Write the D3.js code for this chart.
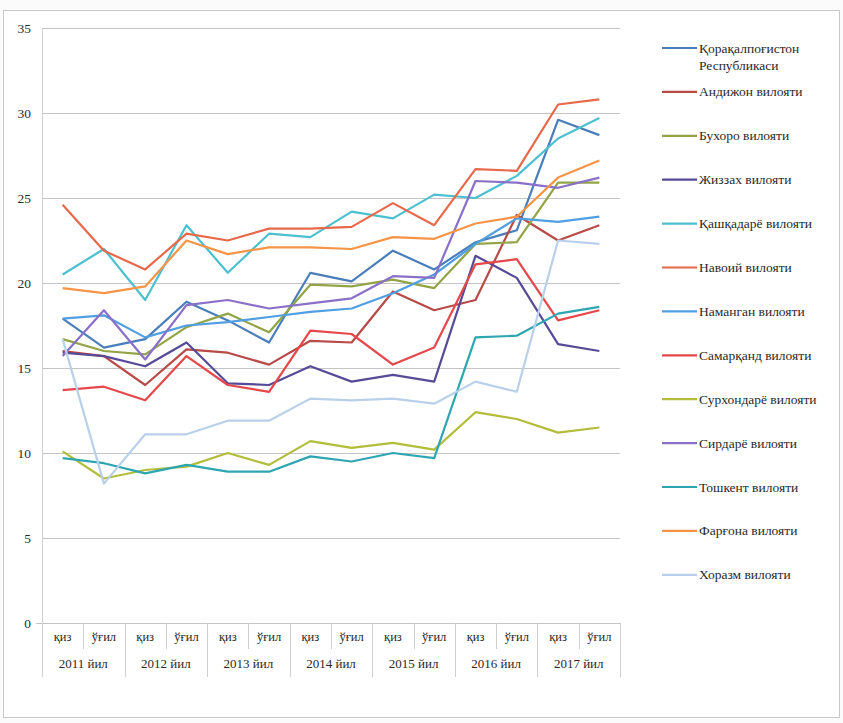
<!DOCTYPE html>
<html>
<head>
<meta charset="utf-8">
<script src="https://cdn.jsdelivr.net/npm/d3@7"></script>
<style>
  html, body { margin: 0; padding: 0; background: #ffffff; }
  svg { display: block; }
  svg text { font-family: "Times New Roman", "Liberation Serif", "DejaVu Serif", "Noto Serif", serif !important; fill: #2a2a2a; }
</style>
</head>
<body>
<svg id="chart" width="843" height="723"></svg>
<script>
// ---- data ----
const years = ["2011 йил", "2012 йил", "2013 йил", "2014 йил", "2015 йил", "2016 йил", "2017 йил"];
const sexes = ["қиз", "ўғил"];
const yTicks = [0, 5, 10, 15, 20, 25, 30, 35];

const regionNames = [
  "Қорақалпоғистон Республикаси",
  "Андижон вилояти",
  "Бухоро вилояти",
  "Жиззах вилояти",
  "Қашқадарё вилояти",
  "Навоий вилояти",
  "Наманган вилояти",
  "Самарқанд вилояти",
  "Сурхондарё вилояти",
  "Сирдарё вилояти",
  "Тошкент вилояти",
  "Фарғона вилояти",
  "Хоразм вилояти"
];
const regionColors = ["#4a7ebb", "#b84a47", "#92a445", "#574b98", "#4cc0d0", "#e8694a",
                      "#4f9fe2", "#e6474a", "#b2bd3a", "#8a70c8", "#2ea6b2", "#f79446", "#b9d0ea"];

const karakalpak = [17.9, 16.2, 16.7, 18.9, 17.8, 16.5, 20.6, 20.1, 21.9, 20.8, 22.4, 23.1, 29.6, 28.7];
const andijan    = [16.0, 15.7, 14.0, 16.1, 15.9, 15.2, 16.6, 16.5, 19.5, 18.4, 19.0, 24.0, 22.5, 23.4];
const bukhara    = [16.7, 16.0, 15.8, 17.4, 18.2, 17.1, 19.9, 19.8, 20.2, 19.7, 22.3, 22.4, 25.9, 25.9];
const jizzakh    = [15.9, 15.7, 15.1, 16.5, 14.1, 14.0, 15.1, 14.2, 14.6, 14.2, 21.6, 20.3, 16.4, 16.0];
const kashkadarya= [20.5, 22.0, 19.0, 23.4, 20.6, 22.9, 22.7, 24.2, 23.8, 25.2, 25.0, 26.3, 28.5, 29.7];
const navoi      = [24.6, 21.9, 20.8, 22.9, 22.5, 23.2, 23.2, 23.3, 24.7, 23.4, 26.7, 26.6, 30.5, 30.8];
const namangan   = [17.9, 18.1, 16.8, 17.5, 17.7, 18.0, 18.3, 18.5, 19.4, 20.5, 22.3, 23.8, 23.6, 23.9];
const samarkand  = [13.7, 13.9, 13.1, 15.7, 14.0, 13.6, 17.2, 17.0, 15.2, 16.2, 21.1, 21.4, 17.8, 18.4];
const surkhandarya=[10.1, 8.5, 9.0, 9.2, 10.0, 9.3, 10.7, 10.3, 10.6, 10.2, 12.4, 12.0, 11.2, 11.5];
const syrdarya   = [15.7, 18.4, 15.5, 18.7, 19.0, 18.5, 18.8, 19.1, 20.4, 20.3, 26.0, 25.9, 25.6, 26.2];
const tashkent   = [9.7, 9.4, 8.8, 9.3, 8.9, 8.9, 9.8, 9.5, 10.0, 9.7, 16.8, 16.9, 18.2, 18.6];
const fergana    = [19.7, 19.4, 19.8, 22.5, 21.7, 22.1, 22.1, 22.0, 22.7, 22.6, 23.5, 23.9, 26.2, 27.2];
const khorezm    = [16.7, 8.2, 11.1, 11.1, 11.9, 11.9, 13.2, 13.1, 13.2, 12.9, 14.2, 13.6, 22.5, 22.3];

const seriesValues = [karakalpak, andijan, bukhara, jizzakh, kashkadarya, navoi, namangan,
                      samarkand, surkhandarya, syrdarya, tashkent, fergana, khorezm];

// ---- layout ----
const FONT = "'Times New Roman', 'Liberation Serif', 'DejaVu Serif', serif";
const svg = d3.select("#chart").attr("font-family", FONT);
const W = 843, H = 723;
const plot = { left: 42, right: 620, top: 28, bottom: 623 };

// background frame
svg.append("rect").attr("x", 0).attr("y", 0).attr("width", W).attr("height", H).attr("fill", "#fbfbfb");
svg.append("rect").attr("x", 3.5).attr("y", 10.5).attr("width", 836).attr("height", 707)
  .attr("fill", "#ffffff").attr("stroke", "#c8c8c8").attr("stroke-width", 1);

const cats = [];
years.forEach(y => sexes.forEach(s => cats.push(y + "|" + s)));

const x = d3.scaleBand().domain(cats).range([plot.left, plot.right]).padding(0);
const xc = d => x(d) + x.bandwidth() / 2;
const y = d3.scaleLinear().domain([0, 35]).range([plot.bottom, plot.top]);

// grid lines
svg.append("g").selectAll("line").data(yTicks.filter(t => t > 0)).join("line")
  .attr("x1", plot.left).attr("x2", plot.right)
  .attr("y1", d => Math.round(y(d)) + 0.5).attr("y2", d => Math.round(y(d)) + 0.5)
  .attr("stroke", "#c4c4c4").attr("stroke-width", 1);

// y axis
const yAxis = d3.axisLeft(y).tickValues(yTicks).tickSize(0).tickPadding(11);
const gy = svg.append("g").attr("transform", `translate(${plot.left},0)`).call(yAxis)
  .attr("font-family", FONT);
gy.select(".domain").attr("stroke", "#cfcfcf");
gy.selectAll("text").attr("font-size", 13.5).attr("font-family", FONT).attr("fill", "#2a2a2a");

// x axis: baseline + two-level category labels
const gx = svg.append("g").attr("transform", `translate(0,${plot.bottom})`).attr("font-family", FONT);
gx.append("line").attr("x1", plot.left - 6).attr("x2", plot.right)
  .attr("y1", 0.5).attr("y2", 0.5).attr("stroke", "#c4c4c4");
cats.forEach((c, i) => {
  const xx = Math.round(x(c)) + 0.5;
  const isYear = i % 2 === 0;
  gx.append("line").attr("x1", xx).attr("x2", xx).attr("y1", 0).attr("y2", isYear ? 54 : 26)
    .attr("stroke", "#cfcfcf");
});
gx.append("line").attr("x1", plot.right + 0.5).attr("x2", plot.right + 0.5).attr("y1", 0).attr("y2", 54)
  .attr("stroke", "#cfcfcf");
gx.selectAll("text.sex").data(cats).join("text").attr("class", "sex")
  .attr("x", d => xc(d)).attr("y", 18).attr("text-anchor", "middle").attr("font-size", 12.5)
  .attr("font-family", FONT).text(d => d.split("|")[1]);
gx.selectAll("text.year").data(years).join("text").attr("class", "year")
  .attr("x", d => x(d + "|" + sexes[0]) + x.bandwidth()).attr("y", 45).attr("text-anchor", "middle")
  .attr("font-size", 13).attr("font-family", FONT).text(d => d);

// lines
const line = d3.line().x((d, i) => xc(cats[i])).y(d => y(d));
svg.append("g").selectAll("path").data(seriesValues).join("path")
  .attr("d", d => line(d)).attr("fill", "none")
  .attr("stroke", (d, i) => regionColors[i]).attr("stroke-width", 2.2)
  .attr("stroke-linejoin", "round");

// legend
const leg = svg.append("g").attr("font-family", FONT);
const legY0 = 48, legStep = 43.9;
regionNames.forEach((name, i) => {
  const yy = legY0 + i * legStep;
  leg.append("line").attr("x1", 662).attr("x2", 697).attr("y1", yy).attr("y2", yy)
    .attr("stroke", regionColors[i]).attr("stroke-width", 2.2);
  if (i === 0) {
    const parts = name.split(" ");
    leg.append("text").attr("x", 699).attr("y", yy + 4.5).attr("font-size", 13.5).text(parts[0]);
    leg.append("text").attr("x", 699).attr("y", yy + 22).attr("font-size", 13.5).text(parts[1]);
  } else {
    leg.append("text").attr("x", 699).attr("y", yy + 4.5).attr("font-size", 13.5).text(name);
  }
});
</script>
</body>
</html>
